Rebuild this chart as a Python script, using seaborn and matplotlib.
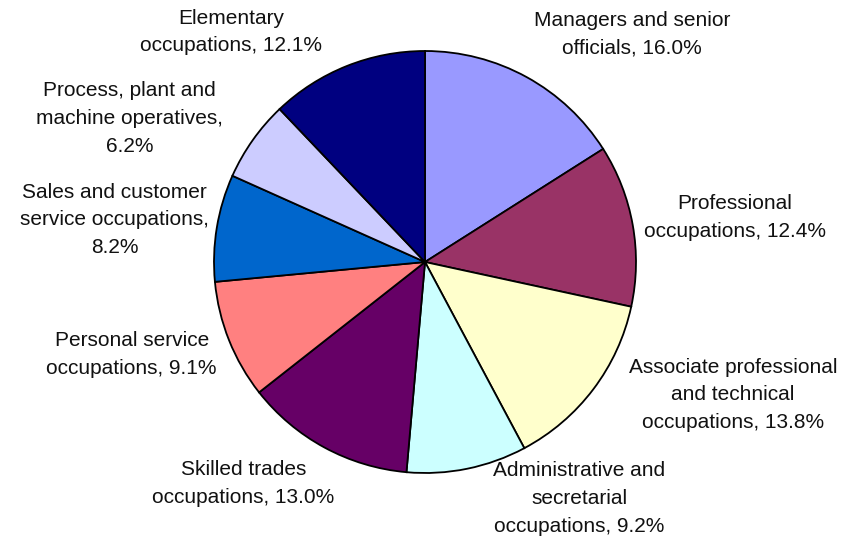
import matplotlib.pyplot as plt
import seaborn as sns

# =========================
# DATA
# =========================
labels = [
    "Managers and senior\nofficials, 16.0%",
    "Professional\noccupations, 12.4%",
    "Associate professional\nand technical\noccupations, 13.8%",
    "Administrative and\nsecretarial\noccupations, 9.2%",
    "Skilled trades\noccupations, 13.0%",
    "Personal service\noccupations, 9.1%",
    "Sales and customer\nservice occupations,\n8.2%",
    "Process, plant and\nmachine operatives,\n6.2%",
    "Elementary\noccupations, 12.1%",
]
shares = [16.0, 12.4, 13.8, 9.2, 13.0, 9.1, 8.2, 6.2, 12.1]
colors = ["#9999FF", "#993366", "#FFFFCC", "#CCFFFF", "#660066",
          "#FF8080", "#0066CC", "#CCCCFF", "#000080"]

# label centres, in units of the pie radius
label_pos = [(0.98, 1.08), (1.47, 0.21), (1.46, -0.63), (0.73, -1.12),
             (-0.86, -1.05), (-1.39, -0.44), (-1.47, 0.20),
             (-1.40, 0.68), (-0.92, 1.09)]

# =========================
# PLOT
# =========================
sns.set_theme(style="white")
plt.rcParams["font.family"] = ["Liberation Sans", "DejaVu Sans"]

W, H, R = 846, 541, 211
cx, cy = 425, 262

fig = plt.figure(figsize=(W / 100, H / 100), dpi=100)
ax = fig.add_axes([0, 0, 1, 1])

ax.pie(shares, colors=colors, startangle=90, counterclock=False,
       wedgeprops=dict(edgecolor="black", linewidth=1.3))

ax.set_xlim(-cx / R, (W - cx) / R)
ax.set_ylim(-(H - cy) / R, cy / R)
ax.set_aspect("equal")
ax.axis("off")

for text, (x, y) in zip(labels, label_pos):
    ax.text(x, y, text, ha="center", va="center", fontsize=15,
            linespacing=1.58, color="#111111")

fig.savefig("out.png", dpi=100, facecolor="white")
